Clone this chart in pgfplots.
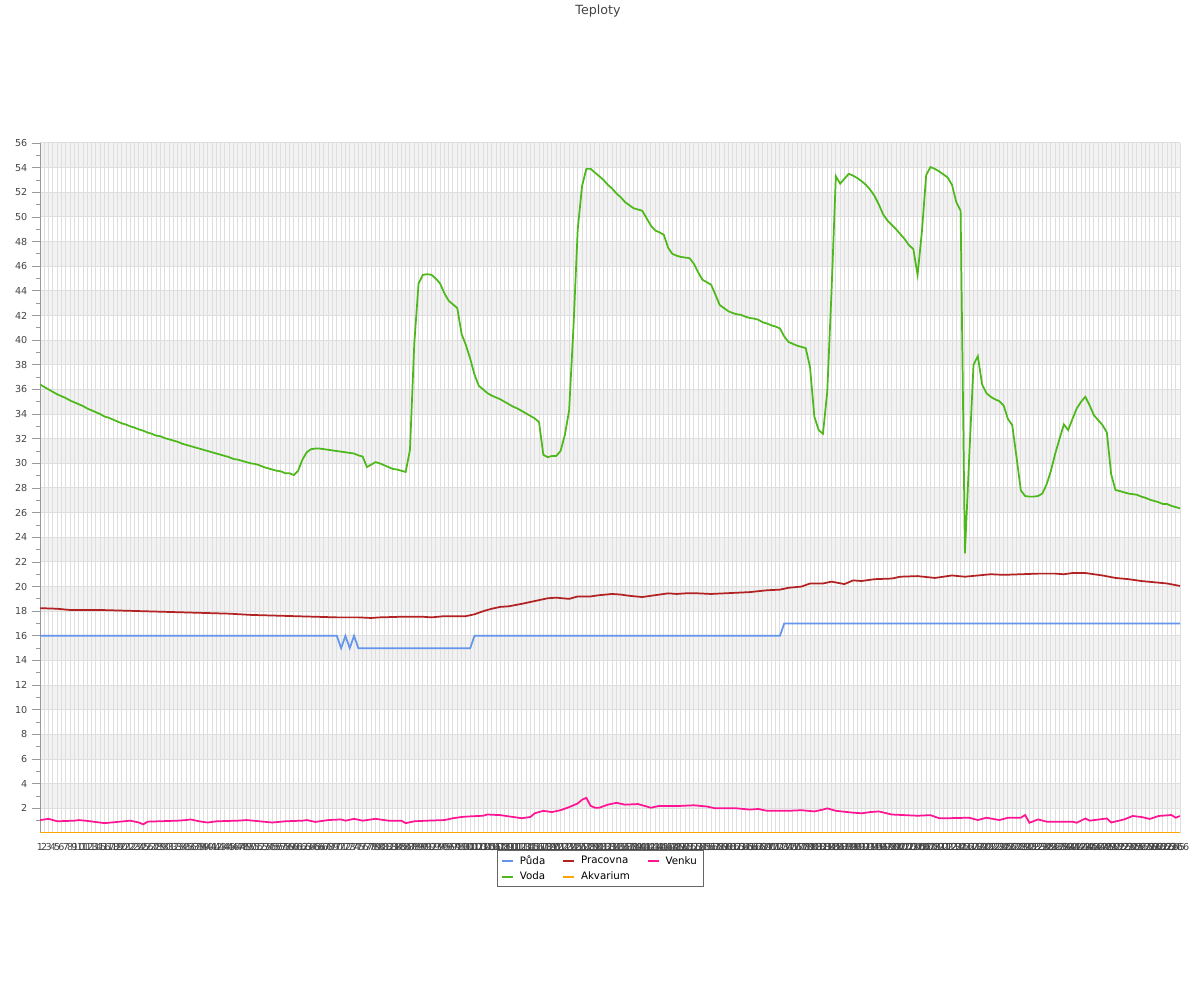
\documentclass[border=0pt]{standalone}
\usepackage{fontspec}
\setmainfont{DejaVu Sans}
\usepackage{pgfplots}
\pgfplotsset{compat=1.18}
\usepackage{pgfplotstable}
\definecolor{puda}{HTML}{6495ED}
\definecolor{voda}{HTML}{4DB81A}
\definecolor{prac}{HTML}{B22222}
\definecolor{venku}{HTML}{FF1493}
\definecolor{akv}{HTML}{FFA500}
\definecolor{gridc}{HTML}{DEDEDE}
\definecolor{band}{HTML}{F2F2F2}
\definecolor{txt}{HTML}{444444}
\definecolor{axc}{HTML}{999999}

\pgfplotstableread{
i v
1 36.4
2 36.2
3 36.0
4 35.8
5 35.6
6 35.45
7 35.3
8 35.1
9 34.95
10 34.8
11 34.65
12 34.45
13 34.3
14 34.15
15 34.0
16 33.8
17 33.7
18 33.55
19 33.4
20 33.25
21 33.15
22 33.0
23 32.9
24 32.75
25 32.65
26 32.5
27 32.4
28 32.25
29 32.2
30 32.05
31 31.95
32 31.85
33 31.75
34 31.6
35 31.5
36 31.4
37 31.3
38 31.2
39 31.1
40 31.0
41 30.9
42 30.8
43 30.7
44 30.6
45 30.5
46 30.35
47 30.3
48 30.2
49 30.1
50 30.0
51 29.95
52 29.85
53 29.7
54 29.6
55 29.5
56 29.4
57 29.35
58 29.2
59 29.2
60 29.05
61 29.4
62 30.3
63 30.9
64 31.15
65 31.2
66 31.2
67 31.15
68 31.1
69 31.05
70 31.0
71 30.95
72 30.9
73 30.85
74 30.8
75 30.65
76 30.55
77 29.7
78 29.9
79 30.1
80 30.0
81 29.85
82 29.7
83 29.55
84 29.5
85 29.4
86 29.3
87 31.1
88 39.7
89 44.6
90 45.3
91 45.35
92 45.3
93 45.0
94 44.6
95 43.8
96 43.2
97 42.9
98 42.6
99 40.5
100 39.6
101 38.5
102 37.2
103 36.3
104 36.0
105 35.7
106 35.5
107 35.35
108 35.2
109 35.0
110 34.8
111 34.6
112 34.45
113 34.25
114 34.05
115 33.85
116 33.65
117 33.35
118 30.7
119 30.5
120 30.6
121 30.6
122 31.0
123 32.3
124 34.3
125 41.0
126 49.0
127 52.5
128 53.9
129 53.9
130 53.6
131 53.3
132 53.0
133 52.6
134 52.3
135 51.9
136 51.6
137 51.2
138 50.95
139 50.7
140 50.6
141 50.5
142 49.9
143 49.3
144 48.9
145 48.75
146 48.55
147 47.5
148 47.0
149 46.85
150 46.75
151 46.7
152 46.65
153 46.2
154 45.5
155 44.9
156 44.7
157 44.5
158 43.7
159 42.85
160 42.6
161 42.35
162 42.2
163 42.1
164 42.05
165 41.9
166 41.8
167 41.75
168 41.65
169 41.45
170 41.35
171 41.2
172 41.1
173 40.95
174 40.3
175 39.85
176 39.7
177 39.55
178 39.45
179 39.35
180 37.8
181 33.8
182 32.7
183 32.4
184 35.8
185 44.0
186 53.3
187 52.7
188 53.1
189 53.5
190 53.35
191 53.15
192 52.9
193 52.6
194 52.2
195 51.7
196 51.0
197 50.2
198 49.7
199 49.35
200 49.0
201 48.6
202 48.2
203 47.7
204 47.4
205 45.3
206 48.8
207 53.4
208 54.05
209 53.9
210 53.7
211 53.45
212 53.2
213 52.6
214 51.2
215 50.5
216 22.7
217 30.5
218 38.0
219 38.7
220 36.4
221 35.7
222 35.4
223 35.2
224 35.05
225 34.7
226 33.6
227 33.1
228 30.5
229 27.8
230 27.35
231 27.3
232 27.3
233 27.35
234 27.55
235 28.3
236 29.4
237 30.8
238 32.0
239 33.16
240 32.7
241 33.6
242 34.46
243 35.0
244 35.4
245 34.7
246 33.9
247 33.5
248 33.1
249 32.5
250 29.1
251 27.84
252 27.75
253 27.65
254 27.55
255 27.5
256 27.45
257 27.3
258 27.2
259 27.05
260 26.95
261 26.85
262 26.7
263 26.7
264 26.55
265 26.45
266 26.35
}\vodatab

\begin{document}
\begin{tikzpicture}
\path (0,0) rectangle (900pt,750pt);
\node[font=\fontsize{9.5}{11}\selectfont, text=txt] at (448.5pt,741.75pt) {Teploty};
\begin{axis}[
  set layers,
  at={(30pt,125.25pt)}, anchor=south west,
  scale only axis, width=855pt, height=517.5pt,
  xmin=1, xmax=266, ymin=0, ymax=56,
  axis lines*=left,
  axis line style={draw=axc, line width=0.75pt},
  xtick={1,...,266},
  ytick={2,4,...,56},
  minor ytick={1,3,...,55},
  grid=major,
  major grid style={draw=gridc, line width=0.75pt},
  tick align=outside,
  major tick length=6pt,
  minor tick length=3pt,
  xtick style={draw=none},
  ytick style={draw=axc, line width=0.6pt},
  tick label style={font=\fontsize{7.2}{8}\selectfont, text=txt},
  xticklabel style={inner sep=1.5pt, text=black!75},
  /pgf/number format/assume math mode=true,
  legend columns=3,
  legend cell align=left,
  legend style={at={(0.4917,-0.0246)}, anchor=north, draw=black!60, line width=0.75pt,
    font=\fontsize{7.7}{9}\selectfont, text=black, inner xsep=3pt, inner ysep=2pt,
    /tikz/every odd column/.append style={column sep=2.5pt},
    /tikz/every even column/.append style={column sep=11pt}},
  legend image code/.code={\draw[#1, line width=1.3pt] (0pt,0pt) -- (8pt,0pt);},
  every axis plot/.append style={line width=1.3pt, mark=none},
]
\addplot[forget plot, draw=none, fill=band, on layer=axis background] coordinates {(1,2)(266,2)(266,4)(1,4)};
\addplot[forget plot, draw=none, fill=band, on layer=axis background] coordinates {(1,6)(266,6)(266,8)(1,8)};
\addplot[forget plot, draw=none, fill=band, on layer=axis background] coordinates {(1,10)(266,10)(266,12)(1,12)};
\addplot[forget plot, draw=none, fill=band, on layer=axis background] coordinates {(1,14)(266,14)(266,16)(1,16)};
\addplot[forget plot, draw=none, fill=band, on layer=axis background] coordinates {(1,18)(266,18)(266,20)(1,20)};
\addplot[forget plot, draw=none, fill=band, on layer=axis background] coordinates {(1,22)(266,22)(266,24)(1,24)};
\addplot[forget plot, draw=none, fill=band, on layer=axis background] coordinates {(1,26)(266,26)(266,28)(1,28)};
\addplot[forget plot, draw=none, fill=band, on layer=axis background] coordinates {(1,30)(266,30)(266,32)(1,32)};
\addplot[forget plot, draw=none, fill=band, on layer=axis background] coordinates {(1,34)(266,34)(266,36)(1,36)};
\addplot[forget plot, draw=none, fill=band, on layer=axis background] coordinates {(1,38)(266,38)(266,40)(1,40)};
\addplot[forget plot, draw=none, fill=band, on layer=axis background] coordinates {(1,42)(266,42)(266,44)(1,44)};
\addplot[forget plot, draw=none, fill=band, on layer=axis background] coordinates {(1,46)(266,46)(266,48)(1,48)};
\addplot[forget plot, draw=none, fill=band, on layer=axis background] coordinates {(1,50)(266,50)(266,52)(1,52)};
\addplot[forget plot, draw=none, fill=band, on layer=axis background] coordinates {(1,54)(266,54)(266,56)(1,56)};

\addplot[puda] coordinates {(1,16)(70,16)(71,15)(72,16)(73,15)(74,16)(75,15)(101,15)(102,16)(173,16)(174,17)(266,17)};
\addlegendentry{Půda}

\addplot[prac] coordinates {(1,18.25)(5,18.2)(8,18.1)(15,18.1)(20,18.05)(25,18.0)(30,17.95)(35,17.9)(40,17.85)(45,17.8)(50,17.7)(55,17.65)(60,17.6)(65,17.55)(70,17.5)(75,17.5)(78,17.45)(80,17.5)(85,17.55)(90,17.55)(92,17.5)(95,17.6)(100,17.6)(102,17.75)(104,18.0)(106,18.2)(108,18.35)(110,18.4)(113,18.6)(117,18.9)(119,19.05)(121,19.1)(124,19.0)(126,19.2)(129,19.2)(131,19.3)(134,19.4)(136,19.35)(138,19.25)(141,19.15)(144,19.3)(147,19.45)(149,19.4)(151,19.45)(154,19.45)(157,19.4)(160,19.45)(163,19.5)(166,19.55)(170,19.7)(173,19.75)(175,19.9)(178,20.0)(180,20.25)(183,20.25)(185,20.4)(188,20.2)(190,20.5)(192,20.45)(195,20.6)(199,20.65)(201,20.8)(205,20.85)(209,20.7)(213,20.9)(216,20.8)(219,20.9)(222,21.0)(225,20.95)(229,21.0)(233,21.05)(237,21.05)(239,21.0)(241,21.1)(244,21.1)(246,21.0)(248,20.9)(251,20.7)(254,20.6)(257,20.45)(260,20.35)(263,20.25)(266,20.05)};
\addlegendentry{Pracovna}

\addplot[venku] coordinates {(1,1.05)(3,1.15)(4,1.05)(5,0.95)(9,1.0)(10,1.05)(12,0.98)(16,0.8)(22,1.0)(24,0.85)(25,0.7)(26,0.92)(33,1.0)(35,1.05)(36,1.1)(38,0.95)(40,0.85)(42,0.95)(47,1.0)(49,1.05)(52,0.95)(55,0.85)(58,0.95)(62,1.0)(63,1.05)(65,0.9)(68,1.05)(71,1.1)(72,1.0)(74,1.15)(76,1.0)(78,1.1)(79,1.15)(82,1.0)(85,1.0)(86,0.8)(88,0.95)(91,1.0)(95,1.05)(97,1.2)(99,1.3)(101,1.35)(104,1.4)(105,1.5)(108,1.45)(111,1.3)(113,1.2)(115,1.3)(116,1.6)(118,1.8)(120,1.7)(122,1.85)(124,2.1)(126,2.4)(127,2.7)(128,2.85)(129,2.2)(130,2.05)(131,2.05)(133,2.3)(135,2.45)(137,2.3)(140,2.35)(143,2.05)(145,2.2)(150,2.2)(153,2.25)(156,2.15)(158,2.0)(163,2.0)(166,1.9)(168,1.95)(170,1.8)(175,1.8)(178,1.85)(181,1.75)(183,1.9)(184,2.0)(186,1.8)(190,1.65)(192,1.6)(194,1.7)(196,1.75)(199,1.5)(205,1.4)(208,1.45)(210,1.2)(212,1.2)(217,1.24)(219,1.05)(221,1.24)(224,1.05)(226,1.24)(229,1.24)(230,1.46)(231,0.83)(233,1.1)(235,0.92)(241,0.92)(242,0.83)(244,1.18)(245,1.0)(249,1.18)(250,0.85)(253,1.1)(255,1.38)(257,1.3)(259,1.14)(261,1.38)(264,1.46)(265,1.24)(266,1.38)};
\addlegendentry{Venku}

\addplot[voda] table[x=i, y=v] {\vodatab};
\addlegendentry{Voda}

\addplot[akv] coordinates {(1,0)(266,0)};
\addlegendentry{Akvarium}
\end{axis}
\end{tikzpicture}
\end{document}
